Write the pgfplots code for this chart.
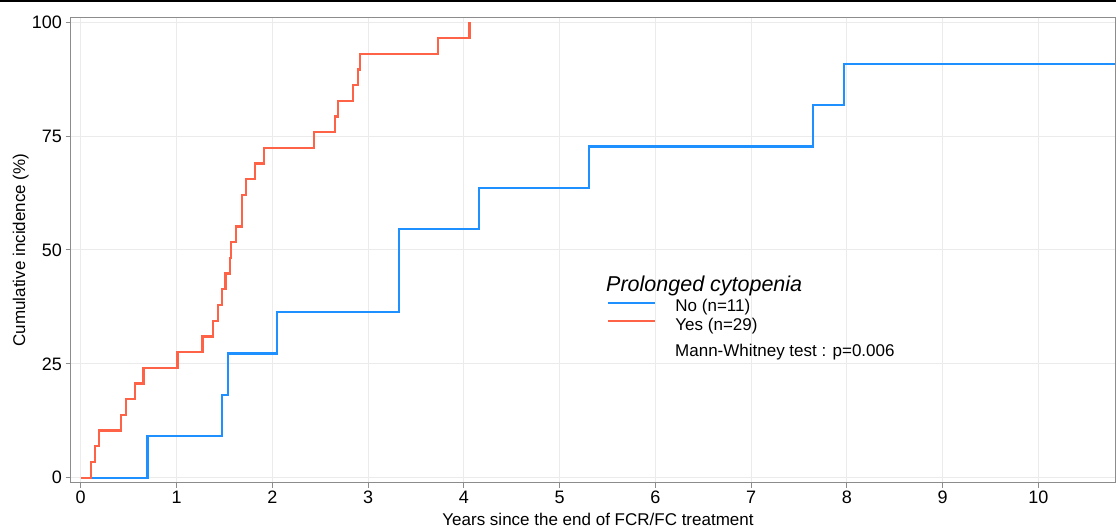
\documentclass[border=0pt]{standalone}
\usepackage{pgfplots}
\pgfplotsset{compat=1.18}
\usepackage{fontspec}
\setmainfont{Liberation Sans}
\definecolor{kmblue}{HTML}{1E90FF}
\definecolor{kmred}{HTML}{FF6347}
\definecolor{gridc}{HTML}{EBEBEB}
\definecolor{axc}{HTML}{8C8C8C}
\begin{document}
\begin{tikzpicture}
\useasboundingbox (0,0) rectangle (1116bp,527bp);
\fill[white] (0,0) rectangle (1116bp,527bp);
\draw[black, line width=2bp] (0,526bp) -- (1116bp,526bp);
\begin{axis}[
  at={(70.5bp,44.3bp)}, anchor=south west,
  scale only axis, width=1044.5bp, height=465.4bp,
  xmin=-0.107, xmax=10.80, ymin=-1.1, ymax=101.1,
  xtick={0,1,...,10}, ytick={0,25,50,75,100},
  grid=major, major grid style={gridc, line width=1bp},
  axis line style={axc, line width=1bp},
  tick align=outside, major tick length=5bp,
  tick style={axc, line width=1bp},
  xtick pos=left, ytick pos=left,
  ticklabel style={font=\fontsize{18bp}{20bp}\selectfont, text=black},
  /pgf/number format/assume math mode=true,
  legend style={at={(axis description cs:0.5136,0.3936)}, anchor=north west,
    draw=none, fill=none, font=\fontsize{17bp}{18bp}\selectfont,
    inner sep=0pt, row sep=2.3bp, column sep=0pt,
    nodes={inner sep=0pt, text height=12bp, text depth=4bp}},
  legend cell align=left,
  legend image code/.code={\draw[#1] (3bp,5bp) -- (50bp,5bp); \path (69bp,0bp);},
]
\addplot[kmblue, line width=2.3bp, const plot mark left, line join=miter] coordinates {
(0,0) (0.696,9.091) (1.475,18.182) (1.538,27.273) (2.049,36.364)
(3.322,45.455) (3.326,54.545) (4.162,63.636) (5.310,72.727)
(7.649,81.818) (7.969,90.909) (10.80,90.909)};
\addlegendentry{No (n=11)}
\addplot[kmred, line width=2.3bp, const plot mark left, line join=miter] coordinates {
(0,0) (0.104,3.448) (0.146,6.897) (0.188,10.345) (0.417,13.793)
(0.473,17.241) (0.567,20.690) (0.654,24.138) (1.009,27.586)
(1.270,31.034) (1.378,34.483) (1.430,37.931) (1.475,41.379)
(1.510,44.828) (1.562,48.276) (1.569,51.724) (1.618,55.172)
(1.682,58.621) (1.686,62.069) (1.726,65.517) (1.823,68.966)
(1.910,72.414) (2.436,75.862) (2.655,79.310) (2.683,82.759)
(2.843,86.207) (2.892,89.655) (2.915,93.103) (3.734,96.552)
(4.061,100)};
\addlegendentry{Yes (n=29)}
\end{axis}
\node[anchor=base west, inner sep=0pt, font=\fontsize{21.5bp}{22bp}\selectfont\itshape] at (606bp,235.3bp) {Prolonged cytopenia};
\node[anchor=base west, inner sep=0pt, font=\fontsize{17bp}{18bp}\selectfont] at (675bp,170bp) {Mann-Whitney test : p=0.006};
\node[anchor=base, inner sep=0pt, font=\fontsize{17bp}{18bp}\selectfont] at (598bp,2bp) {Years since the end of FCR/FC treatment};
\node[anchor=base, rotate=90, inner sep=0pt, font=\fontsize{17bp}{18bp}\selectfont] at (25bp,277bp) {Cumulative incidence (\%)};
\end{tikzpicture}
\end{document}
